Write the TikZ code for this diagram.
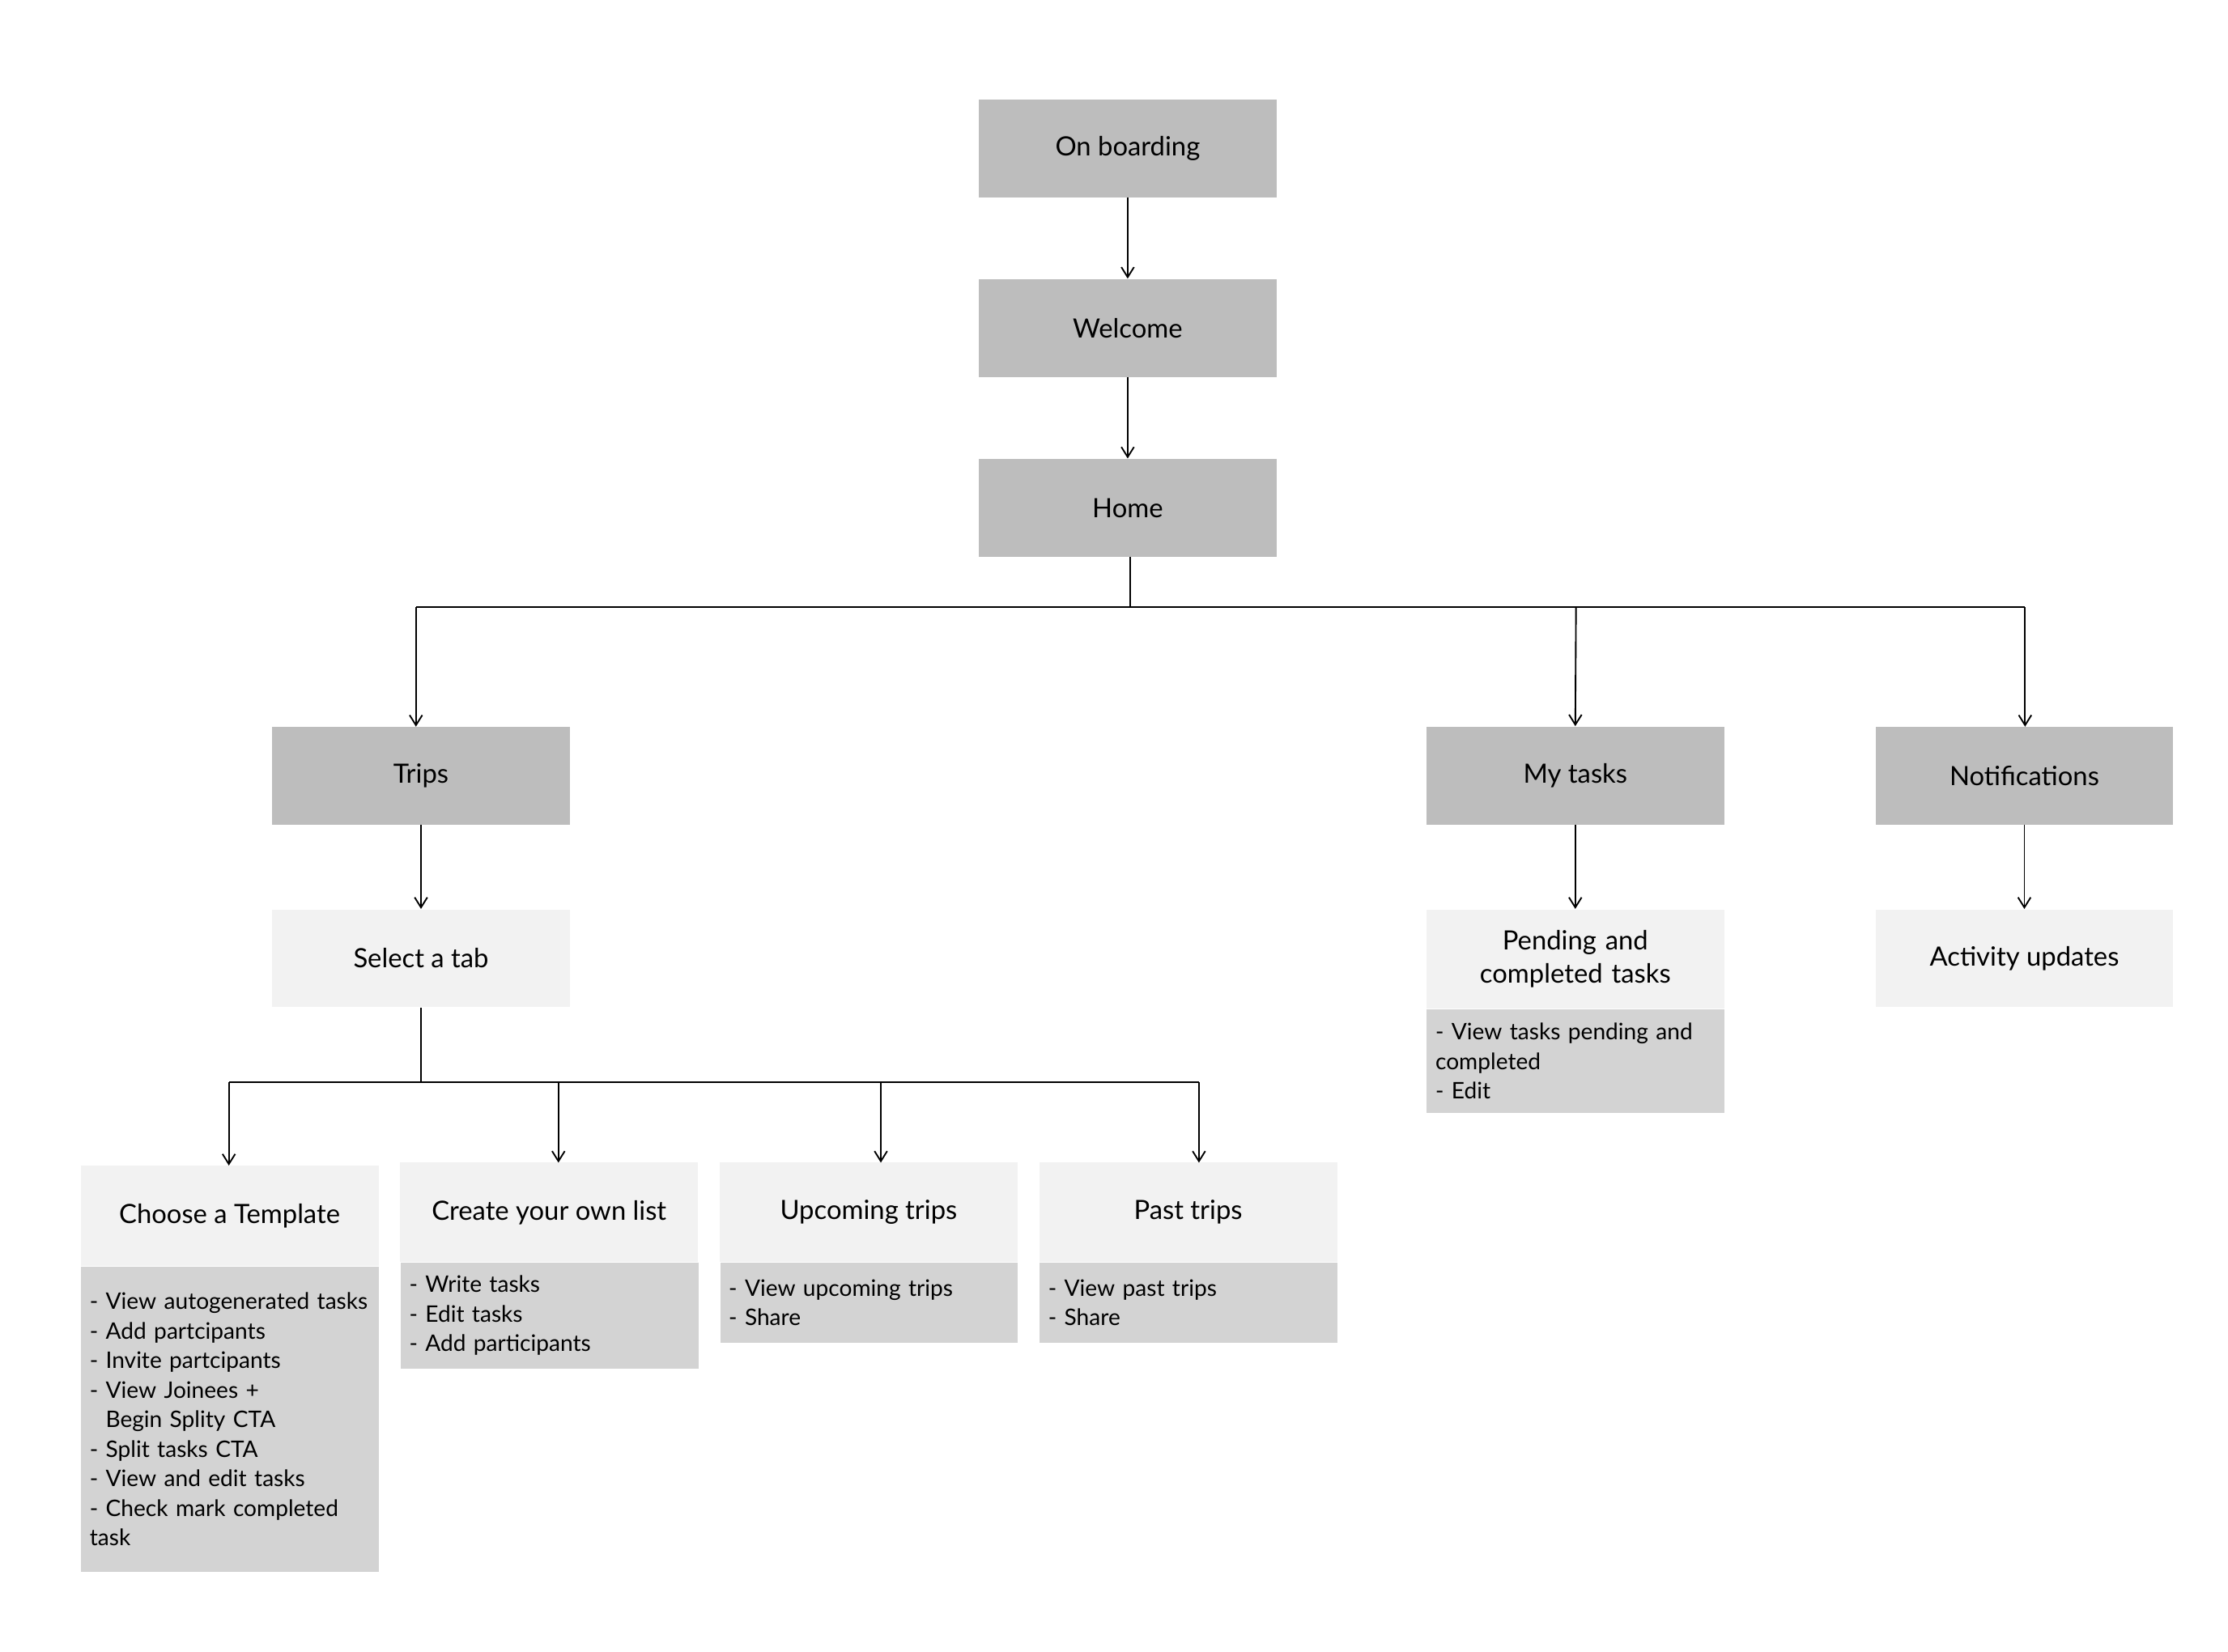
\documentclass[tikz,border=0pt]{standalone}
\usepackage{fontspec}
\setmainfont{Lato}
\usetikzlibrary{arrows.meta}
\definecolor{dark}{HTML}{BDBDBD}
\definecolor{light}{HTML}{F2F2F2}
\definecolor{mid}{HTML}{D3D3D3}
\begin{document}
\begin{tikzpicture}[x=0.02cm,y=-0.02cm,
 box/.style={fill=#1,minimum width=4.14cm,align=center,inner sep=2pt,font=\fontsize{10.5}{13}\selectfont},
 det/.style={fill=mid,anchor=north west,minimum width=4.14cm,text width=3.9cm,align=left,inner sep=0.12cm,font=\fontsize{9}{11.7}\selectfont},
 arr/.style={-{Straight Barb[length=4pt,width=5pt]},line width=0.6pt},
 ln/.style={line width=0.6pt}]
\useasboundingbox (0,0) rectangle (1548,1148);
\node[box=dark,minimum height=1.36cm] (ob) at (783.5,103) {On boarding};
\node[box=dark,minimum height=1.36cm] (wel) at (783.5,228) {Welcome};
\node[box=dark,minimum height=1.36cm] (home) at (783.5,353) {Home};
\node[box=dark,minimum height=1.36cm] (trips) at (292.5,539) {Trips};
\node[box=dark,minimum height=1.36cm] (my) at (1094.5,539) {My tasks};
\node[box=dark,minimum height=1.36cm] (not) at (1406.5,539) {Notifications};
\node[box=light,minimum height=1.36cm] (sel) at (292.5,666) {Select a tab};
\node[box=light,minimum height=1.38cm,text width=3.9cm] (pend) at (1094.5,666.5) {Pending and completed tasks};
\node[det,minimum height=1.44cm] (pendd) at (991,701) {- View tasks pending and completed\\- Edit};
\node[box=light,minimum height=1.36cm] (act) at (1406.5,666) {Activity updates};
\node[box=light,minimum height=1.4cm] (ch) at (159.5,845) {Choose a Template};
\node[det,minimum height=4.24cm] (chd) at (56,880) {- View autogenerated tasks\\- Add partcipants\\- Invite partcipants\\- View Joinees +\\\hspace*{0.7em}Begin Splity CTA\\- Split tasks CTA\\- View and edit tasks\\- Check mark completed task};
\node[box=light,minimum height=1.38cm] (cr) at (381.5,842.5) {Create your own list};
\node[det,minimum height=1.48cm] (crd) at (278,877) {- Write tasks\\- Edit tasks\\- Add participants};
\node[box=light,minimum height=1.38cm] (up) at (603.5,842.5) {Upcoming trips};
\node[det,minimum height=1.12cm] (upd) at (500,877) {- View upcoming trips\\- Share};
\node[box=light,minimum height=1.38cm] (past) at (825.5,842.5) {Past trips};
\node[det,minimum height=1.12cm] (pastd) at (722,877) {- View past trips\\- Share};
\draw[arr] (ob) -- (wel);
\draw[arr] (wel) -- (home);
\coordinate (hb) at (785,422);
\draw[ln] (785,387) -- (hb);
\draw[ln] (289,422) -- (1407,422);
\draw[arr] (289,422) -- (289,505);
\draw[arr] (1095,422) -- (my.north);
\draw[arr] (1407,422) -- (1407,505);
\draw[arr] (trips) -- (sel);
\draw[arr] (my) -- (pend);
\draw[arr] (not) -- (act);
\draw[ln] (sel.south) -- (292.5,752);
\draw[ln] (159,752) -- (833,752);
\draw[arr] (159,752) -- (159,810);
\draw[arr] (388,752) -- (388,808);
\draw[arr] (612,752) -- (612,808);
\draw[arr] (833,752) -- (833,808);
\end{tikzpicture}
\end{document}
